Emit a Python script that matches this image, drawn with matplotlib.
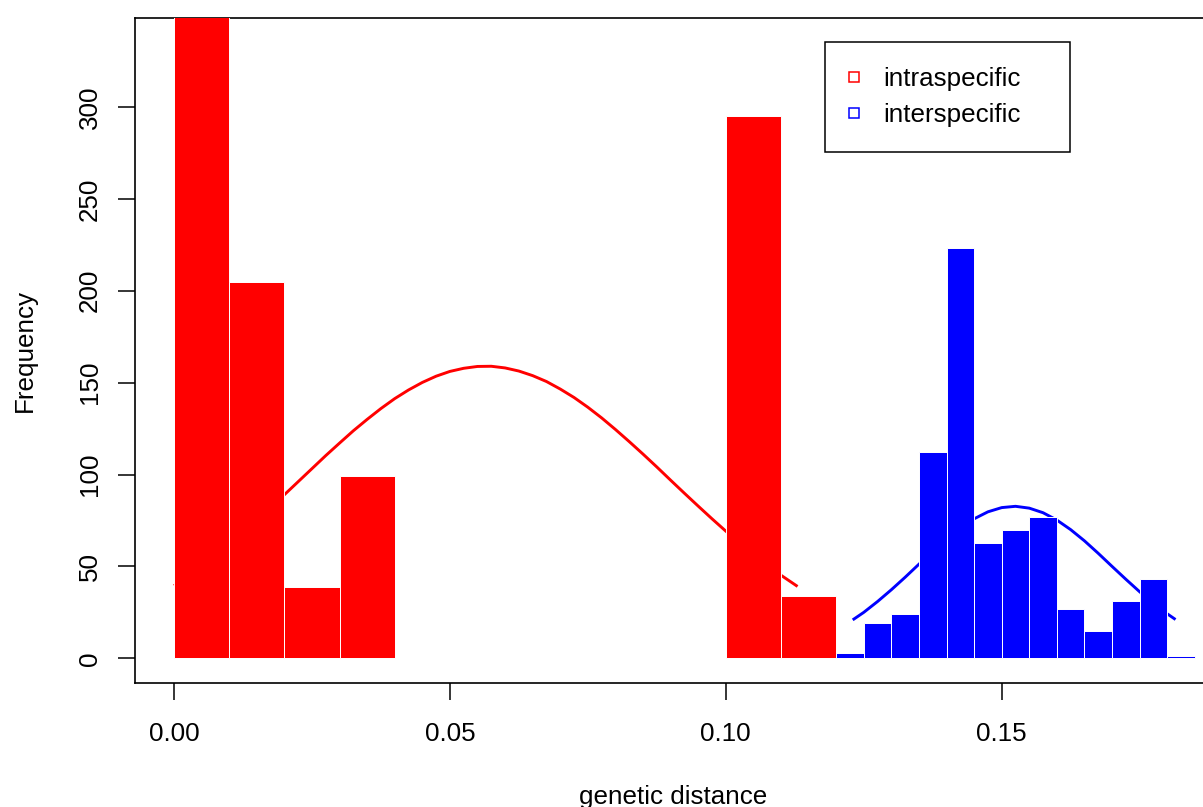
import matplotlib
matplotlib.use("Agg")
import matplotlib.pyplot as plt
from matplotlib.lines import Line2D

# histogram bins (left edges + final right edge) and counts
intra_bins = [0.00, 0.01, 0.02, 0.03, 0.04, 0.05, 0.06, 0.07, 0.08, 0.09, 0.10, 0.11, 0.12]
intra_counts = [372, 205, 39, 99, 0, 0, 0, 0, 0, 0, 295, 34]

inter_bins = [0.120, 0.125, 0.130, 0.135, 0.140, 0.145, 0.150, 0.155,
              0.160, 0.165, 0.170, 0.175, 0.180, 0.185]
inter_counts = [3, 19, 24, 112, 223, 63, 70, 77, 27, 15, 31, 43, 1]

# fitted curves, sampled along x
intra_curve_x = [0.0000, 0.0025, 0.0050, 0.0075, 0.0100, 0.0125, 0.0150, 0.0175,
                 0.0200, 0.0225, 0.0250, 0.0275, 0.0300, 0.0325, 0.0350, 0.0375,
                 0.0400, 0.0425, 0.0450, 0.0475, 0.0500, 0.0525, 0.0550, 0.0575,
                 0.0600, 0.0625, 0.0650, 0.0675, 0.0700, 0.0725, 0.0750, 0.0775,
                 0.0800, 0.0825, 0.0850, 0.0875, 0.0900, 0.0925, 0.0950, 0.0975,
                 0.1000, 0.1025, 0.1050, 0.1075, 0.1100, 0.1130]
intra_curve_y = [39.5, 44.6, 50.0, 55.8, 62.0, 68.4, 75.0, 81.9,
                 89.0, 96.1, 103.2, 110.3, 117.1, 123.8, 130.0, 135.9,
                 141.3, 146.0, 150.1, 153.5, 156.1, 157.8, 158.8, 158.9,
                 158.0, 156.3, 153.8, 150.6, 146.5, 141.9, 136.6, 130.8,
                 124.5, 117.9, 111.1, 104.1, 96.9, 89.8, 82.8, 75.9,
                 69.2, 62.7, 56.5, 50.7, 45.2, 39.1]

inter_curve_x = [0.1230, 0.1250, 0.1275, 0.1300, 0.1325, 0.1350, 0.1375, 0.1400,
                 0.1425, 0.1450, 0.1475, 0.1500, 0.1525, 0.1550, 0.1575, 0.1600,
                 0.1625, 0.1650, 0.1675, 0.1700, 0.1725, 0.1750, 0.1775, 0.1800,
                 0.1815]
inter_curve_y = [20.9, 25.0, 30.9, 37.3, 44.1, 51.2, 58.2, 64.9,
                 70.9, 75.9, 79.7, 82.0, 82.7, 81.7, 79.2, 75.2,
                 70.0, 63.9, 57.1, 50.0, 43.0, 36.2, 29.9, 24.2,
                 21.1]

x_ticks = [0.00, 0.05, 0.10, 0.15]
x_tick_labels = ["0.00", "0.05", "0.10", "0.15"]
y_ticks = [0, 50, 100, 150, 200, 250, 300]


def draw_hist(ax, bins, counts, colour):
    widths = [bins[i + 1] - bins[i] for i in range(len(counts))]
    ax.bar(bins[:-1], counts, width=widths, align="edge", color=colour,
           edgecolor="white", linewidth=0.7, zorder=3)


def main():
    plt.rcParams["font.family"] = ["Liberation Sans", "DejaVu Sans"]
    fs = 18.7
    W, H = 1203, 807

    fig = plt.figure(figsize=(W / 100, H / 100), dpi=100)
    left, right, top, bottom = 135, 1212, 18, 683
    ax = fig.add_axes([left / W, (H - bottom) / H, (right - left) / W, (bottom - top) / H])

    # curves go under the bars
    ax.plot(intra_curve_x, intra_curve_y, color="red", lw=2.1, zorder=2,
            solid_capstyle="butt", solid_joinstyle="round")
    ax.plot(inter_curve_x, inter_curve_y, color="blue", lw=2.1, zorder=2,
            solid_capstyle="butt", solid_joinstyle="round")
    draw_hist(ax, intra_bins, intra_counts, "red")
    draw_hist(ax, inter_bins, inter_counts, "blue")

    ax.set_xlim(-0.00707, 0.18811)
    ax.set_ylim(-13.44, 348.4)

    ax.set_xticks(x_ticks)
    ax.set_xticklabels(x_tick_labels)
    ax.set_yticks(y_ticks)
    ax.tick_params(axis="both", direction="out", length=12.2, width=1.1,
                   labelsize=fs, color="black")
    ax.tick_params(axis="x", pad=16)
    ax.tick_params(axis="y", pad=11.4, labelrotation=90)
    for lab in ax.get_yticklabels():
        lab.set_va("center")

    for side in ["left", "top", "bottom", "right"]:
        ax.spines[side].set_linewidth(1.2)
        ax.spines[side].set_color("black")

    fig.text(673.5 / W, (H - 804) / H, "genetic distance", fontsize=fs,
             ha="center", va="baseline")
    fig.text(31.6 / W, (H - 350.5) / H, "Frequency", fontsize=fs, rotation=90,
             rotation_mode="anchor", ha="center", va="baseline")

    handles = [
        Line2D([], [], marker="s", linestyle="none", markersize=7.3,
               markerfacecolor="none", markeredgecolor="red", markeredgewidth=1.1),
        Line2D([], [], marker="s", linestyle="none", markersize=7.3,
               markerfacecolor="none", markeredgecolor="blue", markeredgewidth=1.1),
    ]
    bx0, by0, bx1 = 824.7, 42.3, 1070.3
    leg = ax.legend(handles, ["intraspecific", "interspecific"],
                    loc="upper left", mode="expand",
                    bbox_to_anchor=(bx0 / W, 1 - by0 / H, (bx1 - bx0) / W, 0.0),
                    bbox_transform=fig.transFigure, borderaxespad=0,
                    fontsize=fs, frameon=True, fancybox=False, framealpha=1,
                    edgecolor="black", borderpad=0.94, handlelength=0.38,
                    handletextpad=0.95, labelspacing=0.49)
    leg.get_frame().set_linewidth(1.1)

    fig.savefig("out.png", dpi=100)


if __name__ == "__main__":
    main()
